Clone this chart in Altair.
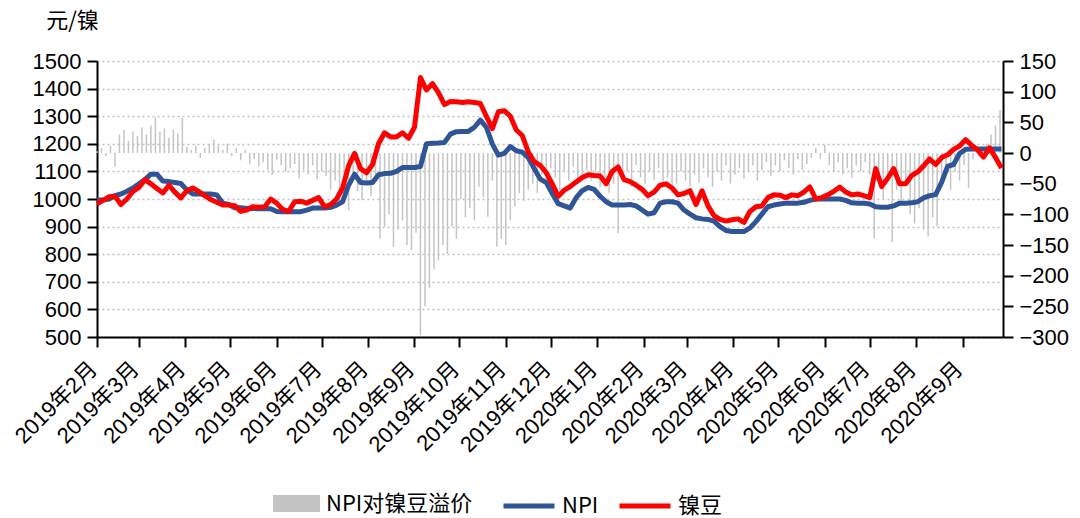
import altair as alt
import pandas as pd

line_start = "2019-02-01"
bar_start = "2019-02-01"

npi_values = [
    996, 996, 1000, 1012, 1018, 1028, 1040, 1055, 1070, 1090,
    1090, 1065, 1063, 1060, 1056, 1033, 1018, 1018, 1018, 1018,
    1015, 985, 980, 968, 968, 966, 966, 965, 965, 965,
    955, 954, 954, 954, 954, 960, 967, 967, 967, 970,
    978, 990, 1050, 1090, 1060, 1058, 1060, 1088, 1092, 1093,
    1100, 1114, 1114, 1114, 1118, 1200, 1202, 1203, 1205, 1235,
    1244, 1245, 1245, 1260, 1286, 1260, 1200, 1159, 1165, 1190,
    1175, 1170, 1150, 1110, 1072, 1060, 1020, 983, 975, 967,
    1005, 1030, 1042, 1035, 1010, 990, 978, 978, 978, 980,
    975, 960, 945, 950, 985, 990, 990, 985, 960, 945,
    932, 928, 926, 920, 900, 886, 882, 882, 882, 895,
    918, 945, 972, 978, 982, 985, 985, 985, 988, 995,
    1000, 1000, 1000, 1000, 1000, 995, 986, 985, 985, 982,
    972, 970, 970, 975, 985, 985, 986, 990, 1004, 1012,
    1016, 1060, 1118, 1125, 1165, 1180, 1181, 1181, 1181, 1181,
    1181, 1181,
]

bean_values = [
    982, 995, 1008, 1010, 980, 1000, 1027, 1042, 1070, 1055,
    1038, 1022, 1050, 1025, 1004, 1030, 1040, 1027, 1012, 998,
    988, 978, 978, 976, 955, 960, 972, 970, 972, 1000,
    985, 962, 955, 990, 992, 985, 995, 1005, 972, 980,
    1000, 1040, 1120, 1165, 1110, 1095, 1125, 1200, 1240, 1225,
    1225, 1240, 1220, 1260, 1440, 1395, 1418, 1385, 1342, 1353,
    1352, 1350, 1352, 1350, 1346, 1300, 1255, 1316, 1320, 1300,
    1250, 1230, 1170, 1135, 1122, 1095, 1055, 1010, 1032, 1045,
    1062, 1078, 1088, 1085, 1083, 1055, 1100, 1116, 1070, 1063,
    1050, 1035, 1012, 1025, 1050, 1055, 1040, 1015, 1020, 1030,
    980, 1030, 975, 940, 926, 920, 925, 928, 915, 955,
    972, 975, 1005, 1015, 1014, 1005, 1015, 1012, 1025, 1044,
    1000, 1005, 1015, 1028, 1043, 1025, 1015, 1018, 1012, 1005,
    1110, 1045, 1075, 1110, 1055, 1055, 1085, 1098, 1120, 1145,
    1125, 1150, 1160, 1180, 1192, 1215, 1195, 1178, 1152, 1185,
    1150, 1112,
]

premium_values = [
    3, 8, -5, 12, -22, 30, 38, 20, 35, 28,
    42, 30, 45, 58, 35, 40, 25, 38, 32, 57,
    10, 5, 12, -8, 8, 15, 22, 12, 5, 15,
    -5, 8, -12, 5, -18, -10, -22, -15, -28, -36,
    -12, -20, -30, -25, -18, -41, -28, -35, -20, -43,
    -30, -38, -60, -45, -80, -55, -93, -30, -62, -77,
    -50, -70, -45, -140, -120, -100, -153, -125, -110, -150,
    -158, -130, -297, -250, -220, -190, -175, -150, -165, -120,
    -140, -75, -105, -90, -110, -55, -72, -104, -45, -153,
    -140, -150, -110, -87, -65, -78, -60, -50, -65, -35,
    -48, -25, -40, -60, -30, -45, -22, -50, -35, -28,
    -45, -30, -55, -40, -65, -50, -131, -45, -30, -55,
    -20, -40, -50, -30, -45, -25, -55, -40, -65, -50,
    -30, -45, -55, -35, -48, -25, -40, -55, -30, -45,
    -20, -50, -35, -25, -42, -30, -20, -45, -28, -15,
    -38, -20, -30, -12, -25, -35, -10, -28, -18, -8,
    8, -10, 13, -20, -30, -15, -35, -25, -40, -20,
    -30, -15, -35, -139, -50, -75, -40, -145, -60, -85,
    -45, -100, -115, -90, -125, -136, -105, -120, -50, -35,
    -60, -30, -45, -20, -57, -10, 5, -8, 15, 30,
    45, 70,
]

series_names = ["NPI", "镍豆"]
premium_name = "NPI对镍豆溢价"
line_colors = ["#2f5597", "#ff0000"]
bar_color = "#c4c4c4"

left_ticks = list(range(500, 1501, 100))
right_ticks = list(range(-300, 151, 50))

# ---- tables
line_dates = pd.date_range(line_start, periods=len(npi_values), freq="4D")
bar_dates = pd.date_range(bar_start, periods=len(premium_values), freq="3D")

line_df = pd.concat([
    pd.DataFrame({"date": line_dates, "series": series_names[0], "price": npi_values}),
    pd.DataFrame({"date": line_dates, "series": series_names[1], "price": bean_values}),
], ignore_index=True)
bar_df = pd.DataFrame({"date": bar_dates, "name": premium_name, "premium": premium_values})

NUM_FONT = "Liberation Sans, Arial, Noto Sans CJK SC"
CJK_FONT = "Noto Sans CJK SC"

x_enc = alt.X(
    "date:T",
    title=None,
    scale=alt.Scale(domain=[alt.DateTime(year=2019, month=2, date=1),
                            alt.DateTime(year=2020, month=9, date=28)],
                    nice=False, padding=0),
    axis=alt.Axis(
        format="%Y年%-m月",
        tickCount={"interval": "month", "step": 1},
        labelAngle=-45, labelAlign="right", labelBaseline="middle",
        labelPadding=18, labelOffset=-4,
        labelFont=NUM_FONT, labelFontSize=22, labelColor="#000000",
        labelOverlap=False, labelFlush=False, labelBound=False,
        domainColor="#000000", domainWidth=2,
        tickColor="#000000", tickWidth=2, tickSize=10,
        grid=False,
    ),
)

bars = alt.Chart(bar_df).mark_bar(size=1.5).encode(
    x=x_enc,
    y=alt.Y(
        "premium:Q", title=None, stack=None,
        scale=alt.Scale(domain=[-300, 150], nice=False, zero=False),
        axis=alt.Axis(
            orient="right", values=right_ticks, grid=False, format="d",
            labelFont=NUM_FONT, labelFontSize=22, labelColor="#000000", labelPadding=6,
            domainColor="#000000", domainWidth=2,
            tickColor="#000000", tickWidth=2, tickSize=10,
        ),
    ),
    fill=alt.Fill(
        "name:N",
        scale=alt.Scale(domain=[premium_name], range=[bar_color]),
        legend=alt.Legend(
            title=None, orient="none", legendX=176, legendY=419,
            symbolType="M-1,-0.36L1,-0.36L1,0.36L-1,0.36Z", symbolSize=2209,
            symbolStrokeWidth=0, labelFont=CJK_FONT, labelFontSize=22,
            labelColor="#000000", labelOffset=6, padding=0,
        ),
    ),
)

line_base = alt.Chart(line_df).mark_line(strokeWidth=5, strokeJoin="round").encode(
    x=x_enc,
    y=alt.Y(
        "price:Q",
        scale=alt.Scale(domain=[500, 1500], nice=False, zero=False),
        axis=alt.Axis(
            orient="left", values=left_ticks, format="d",
            title="元/镍", titleAngle=0, titleX=-25, titleY=-41,
            titleAlign="center", titleBaseline="middle",
            titleFont=CJK_FONT, titleFontSize=22, titleFontWeight="normal", titleColor="#000000",
            labelFont=NUM_FONT, labelFontSize=22, labelColor="#000000", labelPadding=6,
            domainColor="#000000", domainWidth=2,
            tickColor="#000000", tickWidth=2, tickSize=10,
            grid=True, gridColor="#bfbfbf", gridDash=[2, 3], gridWidth=1.3,
        ),
    ),
    stroke=alt.Stroke(
        "series:N",
        scale=alt.Scale(domain=series_names, range=line_colors),
        legend=alt.Legend(
            title=None, orient="none", legendX=404, legendY=417, direction="horizontal",
            symbolType="stroke", symbolSize=2601, symbolStrokeWidth=5,
            labelFont=CJK_FONT, labelFontSize=22, labelColor="#000000",
            labelOffset=5, columnPadding=10, padding=0,
        ),
    ),
)

npi_line = line_base.transform_filter(alt.datum.series == series_names[0])
bean_line = line_base.transform_filter(alt.datum.series == series_names[1])
lines = alt.layer(npi_line, bean_line)

chart = alt.layer(bars, lines).resolve_scale(
    y="independent", fill="independent", stroke="independent"
).properties(
    width=906, height=276,
    autosize=alt.AutoSizeParams(type="none"),
    padding={"left": 89, "top": 53, "right": 69, "bottom": 181},
    background="#ffffff",
).configure_view(stroke=None)

chart.save("out.html", embed_options={"renderer": "svg", "actions": False})
